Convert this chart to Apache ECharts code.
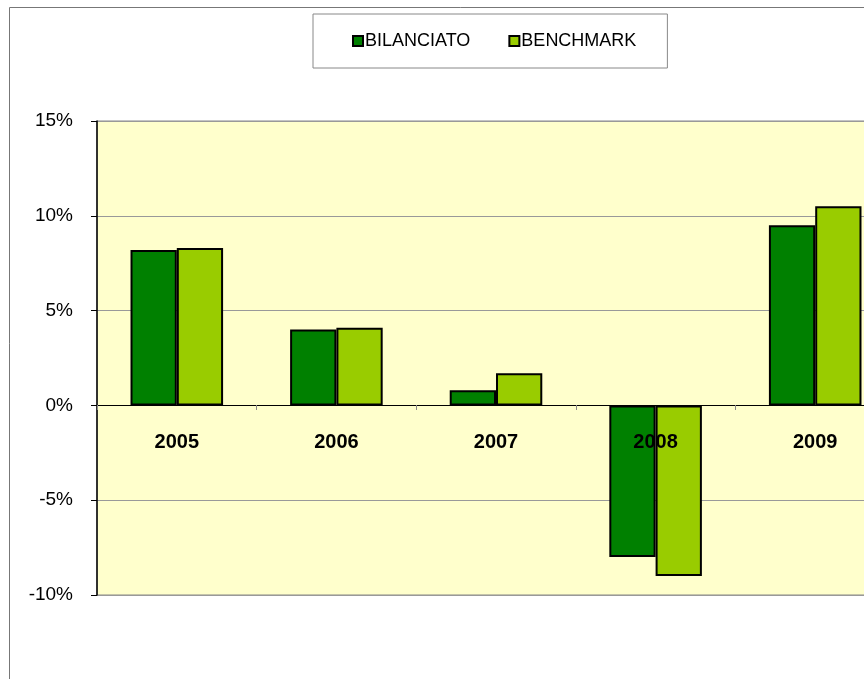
<!DOCTYPE html>
<html>
<head>
<meta charset="utf-8">
<style>
  html, body { margin: 0; padding: 0; background: #fff; overflow: hidden; }
  /* the plot runs past the right edge of the window, as in the original */
  #chart { width: 910px; height: 679px; }
</style>
<script src="https://cdn.jsdelivr.net/npm/echarts@6/dist/echarts.min.js"></script>
</head>
<body>
<div id="chart"></div>
<script>
// values, in percent
var years = ['2005', '2006', '2007', '2008', '2009']
var bilanciato = [8.2, 4.0, 0.8, -8.0, 9.5]
var benchmark = [8.3, 4.1, 1.7, -9.0, 10.5]
var seriesNames = ['BILANCIATO', 'BENCHMARK']

var font = 'Liberation Sans, Arial, sans-serif'

var chart = echarts.init(document.getElementById('chart'))

chart.setOption({
  animation: false,
  backgroundColor: '#fff',
  graphic: [{
    type: 'rect',
    shape: { x: 9.5, y: 7.5, width: 950, height: 700 },
    style: { fill: 'none', stroke: '#777', lineWidth: 1 },
    silent: true
  }],
  legend: {
    data: seriesNames,
    left: 313,
    top: 14,
    padding: [18, 31, 18, 39],
    borderColor: '#888',
    borderWidth: 1,
    itemGap: 38,
    itemWidth: 10,
    itemHeight: 10,
    icon: 'rect',
    textStyle: { fontFamily: font, fontSize: 18, color: '#000', padding: [0, 0, 0, -3] }
  },
  grid: {
    left: 97,
    top: 121,
    width: 798,
    height: 474,
    show: true,
    backgroundColor: '#FFFFCC',
    borderColor: '#888',
    borderWidth: 1
  },
  xAxis: {
    type: 'category',
    data: years,
    position: 'bottom',
    offset: -190,
    axisLine: { onZero: false, lineStyle: { color: '#000', width: 1 } },
    axisTick: { show: true, length: 5, lineStyle: { color: '#888' } },
    axisLabel: {
      margin: 27,
      fontFamily: font,
      fontSize: 20,
      fontWeight: 'bold',
      color: '#000'
    },
    z: 10
  },
  yAxis: {
    type: 'value',
    min: -10,
    max: 15,
    interval: 5,
    axisLine: { show: true, lineStyle: { color: '#000', width: 1.5 } },
    axisTick: { show: true, length: 6, lineStyle: { color: '#000' } },
    axisLabel: {
      formatter: '{value}%',
      margin: 24,
      fontFamily: font,
      fontSize: 19,
      color: '#000'
    },
    splitLine: { lineStyle: { color: '#999', width: 1 } }
  },
  series: [
    {
      name: seriesNames[0],
      type: 'bar',
      data: bilanciato,
      barGap: '0%',
      barCategoryGap: '42%',
      itemStyle: { color: '#008000', borderColor: '#000', borderWidth: 2 }
    },
    {
      name: seriesNames[1],
      type: 'bar',
      data: benchmark,
      itemStyle: { color: '#99CC00', borderColor: '#000', borderWidth: 2 }
    }
  ]
})
</script>
</body>
</html>
